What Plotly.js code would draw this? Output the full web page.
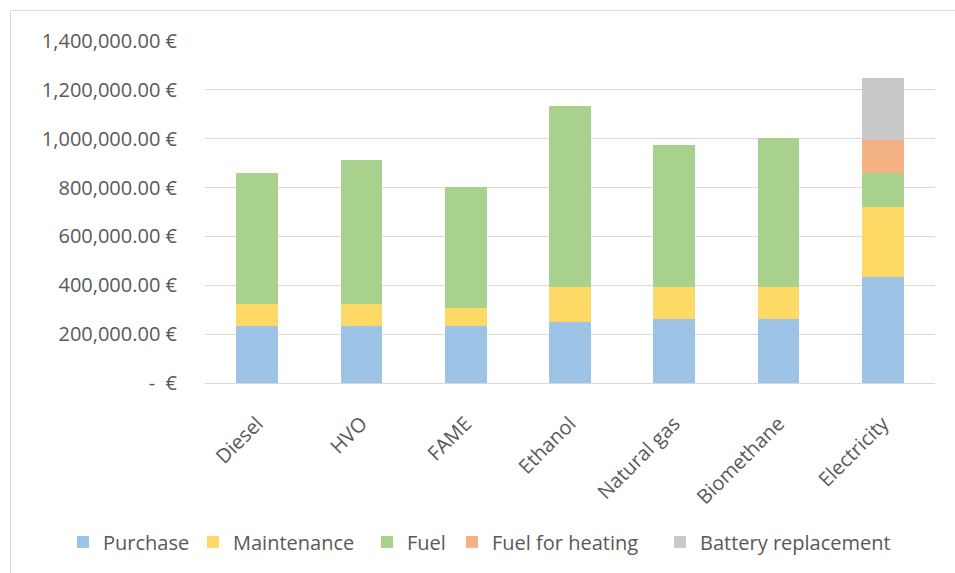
<!DOCTYPE html>
<html>
<head>
<meta charset="utf-8">
<script src="https://cdn.plot.ly/plotly-3.0.1.min.js"></script>
<style>
html,body{margin:0;padding:0;background:#fff;}
#frame{position:absolute;left:10px;top:10px;width:1000px;height:600px;border-left:1px solid #d9d9d9;border-top:1px solid #d9d9d9;pointer-events:none;}
#chart{position:absolute;left:0;top:0;width:955px;height:573px;}
</style>
</head>
<body>
<div id="chart"></div>
<div id="frame"></div>
<script>
const categories = ["Diesel", "HVO", "FAME", "Ethanol", "Natural gas", "Biomethane", "Electricity"];
const purchase = [232000, 232000, 232000, 249000, 261000, 261000, 433000];
const maintenance = [92000, 92000, 76000, 145000, 131000, 131000, 289000];
const fuel = [537000, 588000, 494000, 739000, 583000, 609000, 139000];
const fuelHeating = [0, 0, 0, 0, 0, 0, 132000];
const battery = [0, 0, 0, 0, 0, 0, 254000];
const tickVals = [0, 200000, 400000, 600000, 800000, 1000000, 1200000, 1400000];
const tickText = ["-  €", "200,000.00 €", "400,000.00 €", "600,000.00 €", "800,000.00 €", "1,000,000.00 €", "1,200,000.00 €", "1,400,000.00 €"];
const seriesNames = ["Purchase", "Maintenance", "Fuel", "Fuel for heating", "Battery replacement"];
const seriesValues = [purchase, maintenance, fuel, fuelHeating, battery];
const seriesColors = ["#9DC3E6", "#FFD966", "#A9D18E", "#F4B183", "#C9C9C9"];
// legend text start positions (px) for each entry
const legendTextX = [103, 233, 407, 492, 700];

const legendIds = ["legend", "legend2", "legend3", "legend4", "legend5"];

const traces = seriesNames.map((n, i) => ({
  type: "bar",
  name: n,
  x: categories,
  y: seriesValues[i],
  legend: legendIds[i],
  marker: {color: seriesColors[i], line: {width: 0}},
  hoverinfo: "x+y+name"
}));

const font = {family: "Open Sans, Noto Sans, sans-serif", size: 20, color: "#595959"};
const legendFont = {family: "Open Sans, Noto Sans, sans-serif", size: 20, color: "#595959"};

const layout = {
  width: 955,
  height: 573,
  barmode: "stack",
  bargap: 0.6,
  paper_bgcolor: "#ffffff",
  plot_bgcolor: "#ffffff",
  margin: {l: 205, r: 20, t: 41, b: 190, pad: 0},
  font: font,
  xaxis: {
    type: "category",
    tickangle: -45,
    tickfont: {family: font.family, size: 20, color: "#595959"},
    showgrid: false,
    zeroline: false,
    showline: false,
    ticks: "",
    ticklen: 0,
    ticklabelstandoff: 24,
    automargin: false
  },
  yaxis: {
    range: [0, 1400000],
    tickvals: tickVals,
    ticktext: tickText,
    tickfont: font,
    showgrid: true,
    gridcolor: "#d9d9d9",
    gridwidth: 1,
    zeroline: true,
    zerolinecolor: "#d9d9d9",
    zerolinewidth: 1,
    showline: false,
    ticks: "",
    ticklabelstandoff: 27,
    automargin: false
  },
  showlegend: true
};

legendIds.forEach((id, i) => {
  layout[id] = {
    orientation: "h",
    xref: "container",
    yref: "container",
    x: (legendTextX[i] - 40) / 955,
    xanchor: "left",
    y: 1 - 542 / 573,
    yanchor: "middle",
    font: legendFont,
    itemwidth: 30,
    bgcolor: "rgba(0,0,0,0)"
  };
});

Plotly.newPlot("chart", traces, layout, {displayModeBar: false, staticPlot: true});
</script>
</body>
</html>
